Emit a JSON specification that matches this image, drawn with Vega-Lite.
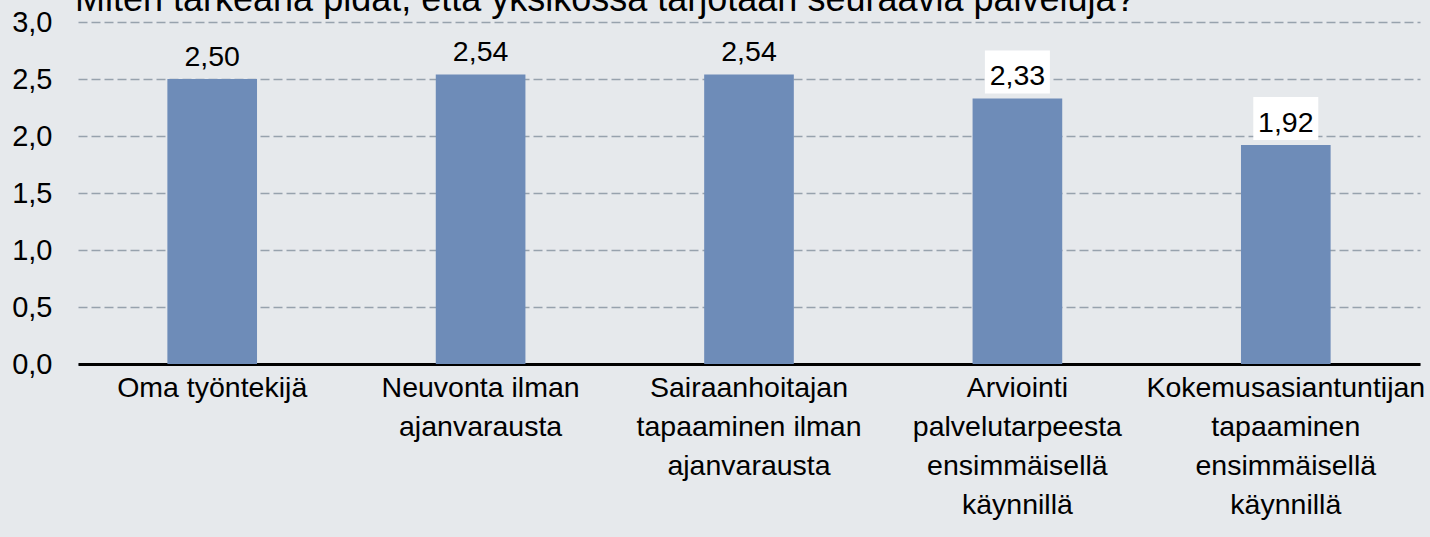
{
  "$schema": "https://vega.github.io/schema/vega-lite/v6.json",
  "width": 1342,
  "height": 342,
  "autosize": {"type": "none"},
  "padding": {"left": 78, "top": 22, "right": 10, "bottom": 173},
  "background": "#e6e9ec",
  "title": {
    "text": "Miten tärkeänä pidät, että yksikössä tarjotaan seuraavia palveluja?",
    "anchor": "start",
    "frame": "group",
    "fontSize": 36,
    "fontWeight": "normal",
    "font": "Liberation Sans",
    "color": "#000000",
    "offset": -11,
    "dx": -3
  },
  "config": {
    "locale": {"number": {"decimal": ",", "thousands": " ", "grouping": [3], "currency": ["", " €"]}},
    "view": {"stroke": null},
    "font": "Liberation Sans"
  },
  "data": {
    "values": [
      {"palvelu": "Oma työntekijä", "arvo": 2.50},
      {"palvelu": "Neuvonta ilman ajanvarausta", "arvo": 2.54},
      {"palvelu": "Sairaanhoitajan tapaaminen ilman ajanvarausta", "arvo": 2.54},
      {"palvelu": "Arviointi palvelutarpeesta ensimmäisellä käynnillä", "arvo": 2.33},
      {"palvelu": "Kokemusasiantuntijan tapaaminen ensimmäisellä käynnillä", "arvo": 1.92}
    ]
  },
  "encoding": {
    "x": {
      "field": "palvelu",
      "type": "nominal",
      "sort": null,
      "scale": {"paddingInner": 0.666, "paddingOuter": 0.333},
      "axis": {
        "title": null,
        "labelAngle": 0,
        "labelFontSize": 28.5,
        "labelColor": "#000000",
        "labelFont": "Liberation Sans",
        "labelLineHeight": 39,
        "labelBaseline": "top",
        "labelPadding": 9,
        "labelLimit": 400,
        "ticks": false,
        "domainColor": "#000000",
        "domainWidth": 3,
        "grid": false,
        "labelExpr": "datum.label == 'Neuvonta ilman ajanvarausta' ? ['Neuvonta ilman', 'ajanvarausta'] : datum.label == 'Sairaanhoitajan tapaaminen ilman ajanvarausta' ? ['Sairaanhoitajan', 'tapaaminen ilman', 'ajanvarausta'] : datum.label == 'Arviointi palvelutarpeesta ensimmäisellä käynnillä' ? ['Arviointi', 'palvelutarpeesta', 'ensimmäisellä', 'käynnillä'] : datum.label == 'Kokemusasiantuntijan tapaaminen ensimmäisellä käynnillä' ? ['Kokemusasiantuntijan', 'tapaaminen', 'ensimmäisellä', 'käynnillä'] : datum.label"
      }
    },
    "y": {
      "field": "arvo",
      "type": "quantitative",
      "scale": {"domain": [0, 3], "nice": false},
      "axis": {
        "title": null,
        "values": [0, 0.5, 1, 1.5, 2, 2.5, 3],
        "format": ".1f",
        "labelFontSize": 29,
        "labelColor": "#000000",
        "labelFont": "Liberation Sans",
        "labelPadding": 26,
        "ticks": false,
        "domain": false,
        "grid": true,
        "gridColor": "#97a2ad",
        "gridDash": [9, 4],
        "gridWidth": 1.3
      }
    }
  },
  "layer": [
    {
      "mark": {"type": "bar", "color": "#6e8cb8"}
    },
    {
      "transform": [{"filter": "datum.arvo < 2.4"}],
      "mark": {"type": "bar", "color": "#ffffff", "width": 65, "yOffset": -48, "y2Offset": -5},
      "encoding": {
        "y2": {"field": "arvo"}
      }
    },
    {
      "mark": {"type": "text", "fontSize": 28.5, "font": "Liberation Sans", "color": "#000000", "baseline": "alphabetic", "dy": -13.5},
      "encoding": {
        "text": {"field": "arvo", "type": "quantitative", "format": ".2f"}
      }
    }
  ]
}
